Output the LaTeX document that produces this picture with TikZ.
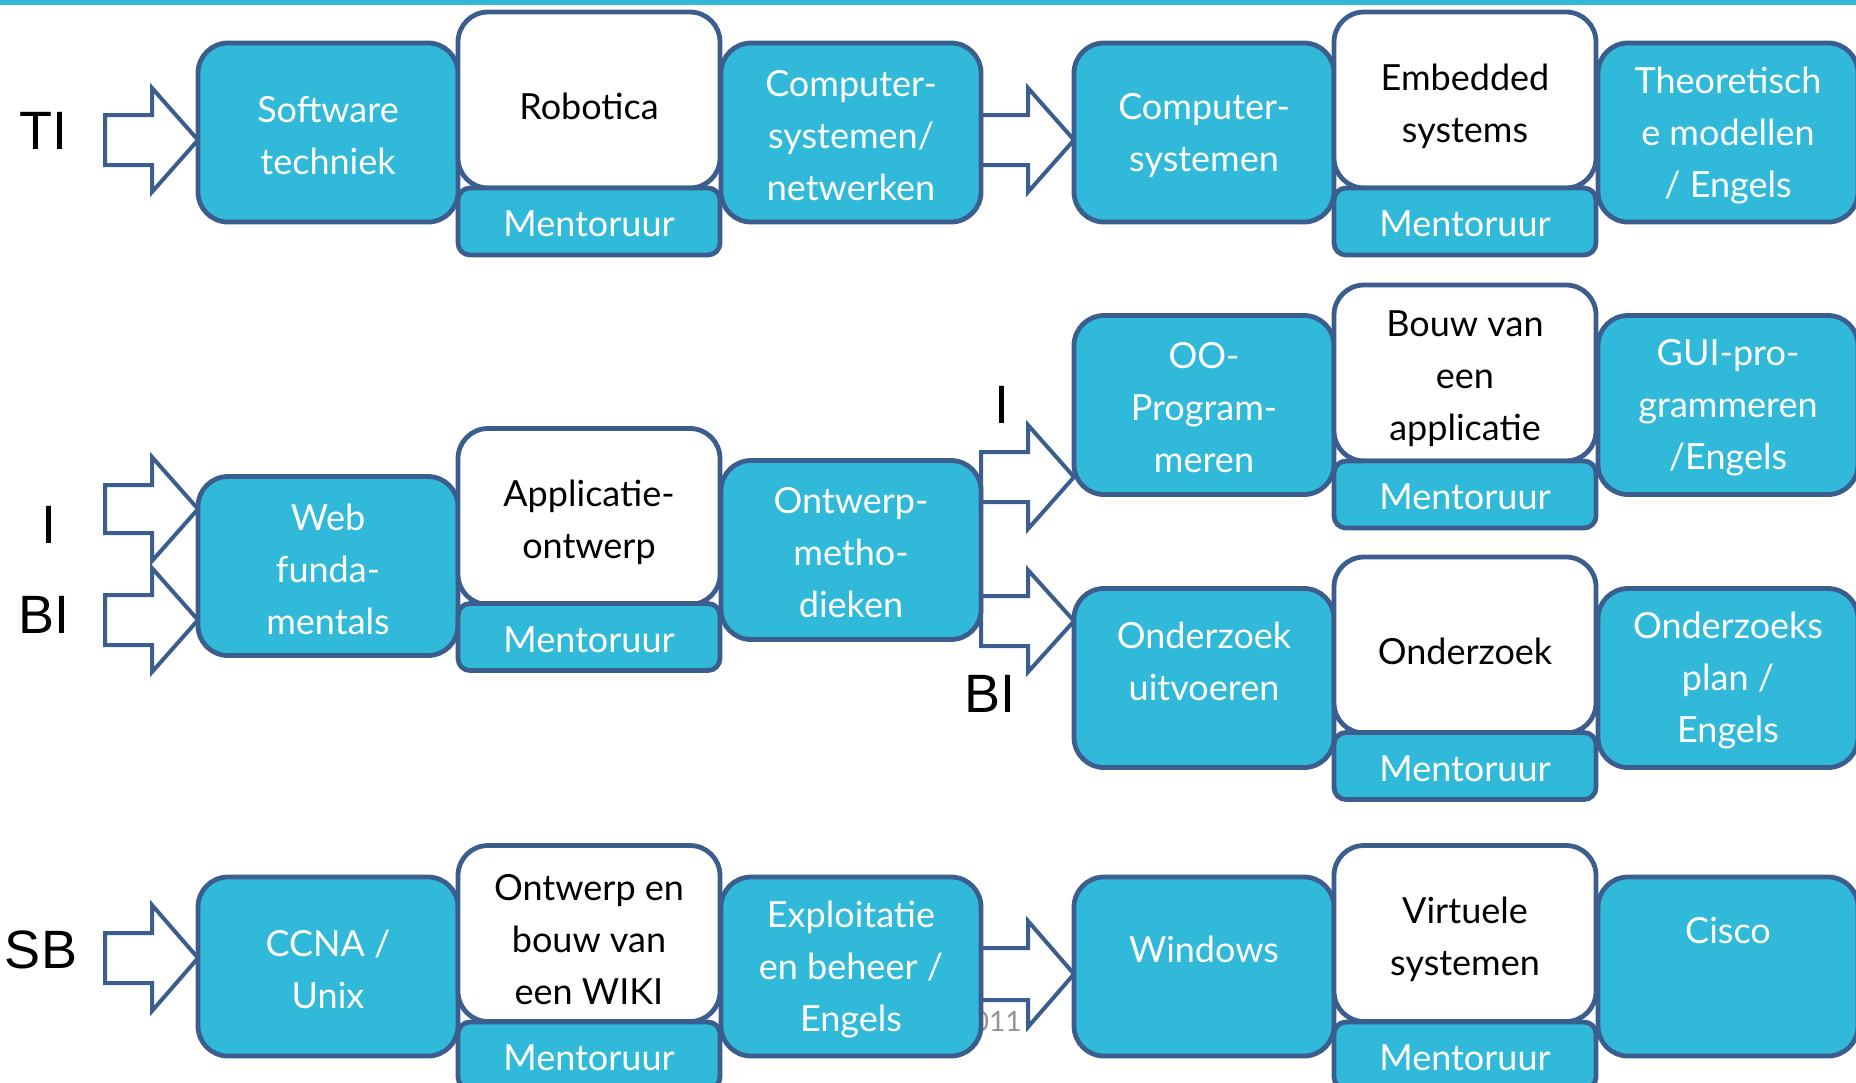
\documentclass[tikz,border=0pt]{standalone}
\usepackage{fontspec}
\setmainfont{Lato}
\newfontfamily\lab{Liberation Sans}
\usetikzlibrary{calc}
\definecolor{cy}{HTML}{31B9DA}
\definecolor{bd}{HTML}{3B5E8E}
\newcommand\btfont{\fontsize{18}{26}\selectfont}
% block arrow: left x, head base x, tip x, tip y, half shaft, half head
\newcommand\barrow[6]{%
  \draw[arr] (#1,#4-#5) -- (#2,#4-#5) -- (#2,#4-#6) -- (#3,#4) -- (#2,#4+#6) -- (#2,#4+#5) -- (#1,#4+#5) -- cycle;}
\begin{document}
\begin{tikzpicture}[x=0.5pt,y=-0.5pt,
  bx/.style={draw=bd,line width=2.4pt,rounded corners=15pt,inner sep=0pt,outer sep=0pt,align=center,font=\btfont},
  btext/.style={font=\btfont,text=white,align=center,inner sep=0pt},
  wtext/.style={btext,text=black},
  bluebox/.style={bx,fill=cy,minimum width=130pt,minimum height=89.5pt},
  blue/.style={bluebox,label={[btext,yshift=-1.5pt]center:#1}},
  wht/.style={bx,fill=white,minimum width=131pt,minimum height=88pt,label={[wtext,yshift=-3pt]center:#1}},
  ment/.style={bx,fill=cy,rounded corners=6pt,minimum width=131pt,minimum height=33.5pt,label={[btext,yshift=-1.2pt]center:Mentoruur}},
  arr/.style={draw=bd,fill=white,line width=2pt,line join=miter},
  lbl/.style={font=\lab\fontsize{27}{30}\selectfont,inner sep=0pt}]
\useasboundingbox (0,0) rectangle (1856,1082);
\clip (0,0) rectangle (1856,1082);
\fill[cy] (0,0) rectangle (1856,5);
% block arrows
\barrow{105}{152}{198}{140}{25}{52}
\barrow{981}{1028}{1074}{140}{25}{52}
\barrow{105}{152}{198}{509}{24}{52}
\barrow{105}{152}{198}{620}{25}{52}
\barrow{981}{1028}{1074}{477}{25}{52}
\barrow{981}{1028}{1074}{621}{25}{51}
\barrow{105}{152}{198}{958}{25}{53}
\barrow{981}{1028}{1074}{974}{26}{53}
\node[anchor=east,text=black!42,font=\fontsize{14}{16}\selectfont,inner sep=0pt] (yr) at (1022,1021) {2011};
% row 1
\node[blue={Software\\techniek}] (sw) at (328,132.5) {};
\node[wht={Robotica}] (rob) at (589,100) {};
\node[ment] (m1) at (589,221.5) {};
\node[blue={Computer-\\systemen/\\netwerken}] (cn) at (851,132.5) {};
\node[blue={Computer-\\systemen}] (cs) at (1204,132.5) {};
\node[wht={Embedded\\systems}] (emb) at (1465,100) {};
\node[ment] (m2) at (1465,221.5) {};
\node[blue={Theoretisch\\e modellen\\/ Engels}] (th) at (1728,132.5) {};
% row 2
\node[blue={Web\\funda-\\mentals}] (web) at (328,566) {};
\node[wht={Applicatie-\\ontwerp}] (app) at (589,516.5) {};
\node[ment] (m3) at (589,637) {};
\node[blue={Ontwerp-\\metho-\\dieken}] (om) at (851,550) {};
\node[blue={OO-\\Program-\\meren}] (oo) at (1204,405) {};
\node[wht={Bouw van\\een\\applicatie}] (bouw) at (1465,373) {};
\node[ment] (m4) at (1465,494.5) {};
\node[blue={GUI-pro-\\grammeren\\/Engels}] (gui) at (1728,405) {};
\node[bluebox] (ou) at (1204,678) {};
\node[btext] (out) at ($(ou.center)+(0,-16.5)$) {Onderzoek\\uitvoeren};
\node[wht={Onderzoek}] (ond) at (1465,645) {};
\node[ment] (m5) at (1465,766) {};
\node[blue={Onderzoeks\\plan /\\Engels}] (op) at (1728,678) {};
% row 3
\node[blue={CCNA /\\Unix}] (cc) at (328,966.5) {};
\node[wht={Ontwerp en\\bouw van\\een WIKI}] (wiki) at (589,933.5) {};
\node[ment] (m6) at (589,1055.5) {};
\node[blue={Exploitatie\\en beheer /\\Engels}] (ex) at (851,966.5) {};
\node[bluebox] (win) at (1204,966.5) {};
\node[btext] (wint) at ($(win.center)+(0,-17.5)$) {Windows};
\node[wht={Virtuele\\systemen}] (vir) at (1465,933.5) {};
\node[ment] (m7) at (1465,1055.5) {};
\node[bluebox] (cis) at (1728,966.5) {};
\node[btext] (cist) at ($(cis.center)+(0,-36.5)$) {Cisco};
% labels
\node[lbl] (ti) at (43,131) {TI};
\node[lbl] (li) at (49,525) {I};
\node[lbl] (lbi) at (44,615) {BI};
\node[lbl] (ri) at (1002,405) {I};
\node[lbl] (rbi) at (990,694) {BI};
\node[lbl] (sb) at (41,950) {SB};
\end{tikzpicture}
\end{document}
